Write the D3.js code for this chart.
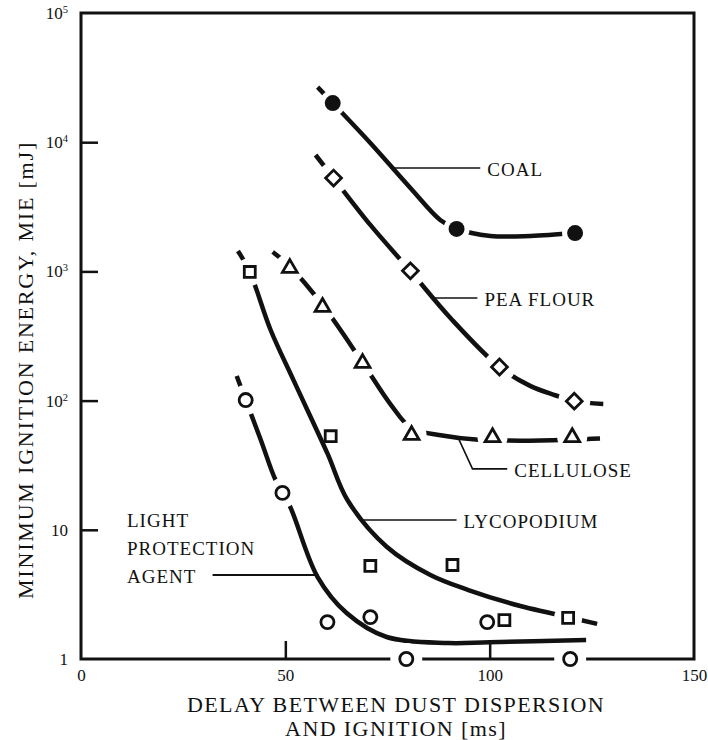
<!DOCTYPE html>
<html>
<head>
<meta charset="utf-8">
<script src="https://cdn.jsdelivr.net/npm/d3@7"></script>
<style>
body { margin: 0; background: #fff; }
svg text { font-family: "Liberation Serif", "DejaVu Serif", serif; fill: #111; }
</style>
</head>
<body>
<svg id="chart" width="708" height="740"></svg>
<script>
// tick values
var xTicks = [0, 50, 100, 150];
var yTicks = [1, 10, 100, 1000, 10000, 100000];

// measured points: delay [ms] vs MIE [mJ]
var coalX = [61.6, 91.9, 120.9];
var coalY = [20100, 2130, 1980];
var peaX = [61.8, 80.6, 102.4, 120.7];
var peaY = [5280, 1010, 182, 99];
var celluloseX = [51.1, 59.1, 68.9, 80.9, 100.7, 120.2];
var celluloseY = [1060, 530, 195, 54, 52, 52];
var lycoX = [41.3, 61.1, 70.8, 90.9, 103.6, 119.2];
var lycoY = [990, 53, 5.25, 5.34, 2.0, 2.08];
var lpaX = [40.3, 49.3, 60.3, 70.8, 79.6, 99.4, 119.7];
var lpaY = [101, 19.3, 1.93, 2.11, 1, 1.93, 1];

// hand drawn trend curves
var coalCurveX = [57.9, 61.6, 70.8, 80.6, 87.9, 91.9, 100.2, 110.0, 120.9];
var coalCurveY = [26700, 20100, 9860, 4420, 2500, 2130, 1880, 1880, 1980];
var peaCurveX = [57.4, 61.8, 70.8, 80.6, 90.4, 102.4, 109.9, 116.0, 120.7, 127.8];
var peaCurveY = [7960, 5280, 2290, 1007, 436, 182, 130, 110, 99, 94];
var celluloseCurveX = [46.9, 51.0, 59.1, 68.8, 75.7, 80.9, 88.0, 96.6, 107.5, 120.2, 127.0];
var celluloseCurveY = [1413, 1100, 550, 199, 94, 61, 54, 50, 49, 50, 51];
var lycoCurveX = [38.4, 41.3, 46.4, 52.0, 60.3, 65.2, 74.8, 85.5, 94.8, 107.5, 114.8, 126.3];
var lycoCurveY = [1440, 990, 352, 144, 39, 17, 7.4, 4.47, 3.42, 2.57, 2.27, 1.87];
var lpaCurveX = [38.1, 40.3, 44.0, 47.6, 51.1, 57.9, 65.0, 74.8, 89.9, 99.9, 123.6];
var lpaCurveY = [155, 101, 49.6, 24.3, 15.3, 4.31, 2.27, 1.48, 1.33, 1.35, 1.40];

// labels with leader lines (data units)
var labelNames = ["COAL", "PEA FLOUR", "CELLULOSE", "LYCOPODIUM"];
var leaderX0 = [75.7, 86.2, 95.8, 69.1];
var leaderX1 = [97.7, 97.0, 104.3, 91.9];
var leaderY = [6310, 622, 29.6, 11.9];
var lpaLines = ["LIGHT", "PROTECTION", "AGENT"];
var lpaLeaderX = [32.2, 58.1];
var lpaLeaderY = 4.47;
var celluloseBend = [92.3, 51.4];

var margin = {top: 13, right: 14, bottom: 81, left: 81};
var W = 708, H = 740;
var width = W - margin.left - margin.right;
var height = H - margin.top - margin.bottom;

var svg = d3.select("#chart");
var g = svg.append("g").attr("transform", "translate(" + margin.left + "," + margin.top + ")");

var x = d3.scaleLinear().domain([0, 150]).range([0, width]);
var y = d3.scaleLog().domain([1, 100000]).range([height, 0]);

var series = [
  {id: "coal", xs: coalX, ys: coalY, cx: coalCurveX, cy: coalCurveY, type: d3.symbolCircle, size: 200, fill: "#111", rot: 0, gap: 13},
  {id: "pea", xs: peaX, ys: peaY, cx: peaCurveX, cy: peaCurveY, type: d3.symbolSquare, size: 125, fill: "#fff", rot: 45, gap: 16},
  {id: "cell", xs: celluloseX, ys: celluloseY, cx: celluloseCurveX, cy: celluloseCurveY, type: d3.symbolTriangle, size: 95, fill: "#fff", rot: 0, gap: 15},
  {id: "lyco", xs: lycoX, ys: lycoY, cx: lycoCurveX, cy: lycoCurveY, type: d3.symbolSquare, size: 120, fill: "#fff", rot: 0, gap: 14},
  {id: "lpa", xs: lpaX, ys: lpaY, cx: lpaCurveX, cy: lpaCurveY, type: d3.symbolCircle, size: 135, fill: "#fff", rot: 0, gap: 15}
];

// distance from a point to a polyline (pixel space)
function distToPolyline(px, py, pts) {
  var best = Infinity;
  for (var i = 1; i < pts.length; i++) {
    var ax = pts[i-1][0], ay = pts[i-1][1], bx = pts[i][0], by = pts[i][1];
    var dx = bx - ax, dy = by - ay;
    var t = ((px - ax) * dx + (py - ay) * dy) / (dx * dx + dy * dy);
    t = Math.max(0, Math.min(1, t));
    best = Math.min(best, Math.hypot(px - ax - t * dx, py - ay - t * dy));
  }
  return best;
}

var line = d3.line().x(function(d){ return x(d[0]); }).y(function(d){ return y(d[1]); })
  .curve(d3.curveCatmullRom.alpha(0.5));

// frame
g.append("rect")
  .attr("width", width).attr("height", height)
  .attr("fill", "none").attr("stroke", "#111").attr("stroke-width", 3);

var xAxis = g.append("g")
  .attr("transform", "translate(0," + height + ")")
  .call(d3.axisBottom(x).tickValues(xTicks).tickSize(-18).tickSizeOuter(0).tickPadding(10).tickFormat(d3.format("d")));
xAxis.select(".domain").remove();
xAxis.selectAll("line").attr("stroke", "#111").attr("stroke-width", 2.5)
  .attr("display", function(d){ return d === 0 || d === 150 ? "none" : null; });
xAxis.selectAll("text").style("font-size", "17px");

var yAxis = g.append("g")
  .call(d3.axisLeft(y).tickValues(yTicks).tickSize(-17).tickSizeOuter(0).tickPadding(13));
yAxis.select(".domain").remove();
yAxis.selectAll("line").attr("stroke", "#111").attr("stroke-width", 2.5)
  .attr("display", function(d){ return d === 1 || d === 100000 ? "none" : null; });
yAxis.selectAll("text").each(function(d) {
  var t = d3.select(this).text("").style("font-size", "17px");
  var p = Math.round(Math.log10(d));
  if (p < 2) {
    t.text(d);
  } else {
    t.append("tspan").text("10");
    t.append("tspan").text(p).attr("dy", "-6").style("font-size", "10.5px");
  }
});

// curves
series.forEach(function(s) {
  var pts = s.cx.map(function(v, i){ return [v, s.cy[i]]; });
  g.append("path")
    .attr("d", line(pts))
    .attr("fill", "none")
    .attr("stroke", "#111")
    .attr("stroke-width", 4.5);
});

// white halos cut the curves (and the bottom of the frame) around the markers
var halos = g.append("g");
series.forEach(function(s) {
  var poly = s.cx.map(function(v, i){ return [x(v), y(s.cy[i])]; });
  s.xs.forEach(function(v, i) {
    var px = x(v), py = y(s.ys[i]);
    if (distToPolyline(px, py, poly) < 7.5) {
      halos.append("circle").attr("cx", px).attr("cy", py).attr("r", s.gap).attr("fill", "#fff");
    } else if (Math.abs(py - height) < 2) {
      halos.append("circle").attr("cx", px).attr("cy", py).attr("r", 16).attr("fill", "#fff");
    }
  });
});

// markers
series.forEach(function(s) {
  var sym = d3.symbol().type(s.type).size(s.size);
  g.append("g").selectAll("path")
    .data(s.xs.map(function(v, i){ return [v, s.ys[i]]; }))
    .join("path")
    .attr("d", sym)
    .attr("transform", function(d){ return "translate(" + x(d[0]) + "," + y(d[1]) + ") rotate(" + s.rot + ")"; })
    .attr("fill", s.fill)
    .attr("stroke", "#111")
    .attr("stroke-width", s.fill === "#fff" ? 2.8 : 0);
});

// leader lines and labels
var ann = g.append("g");
labelNames.forEach(function(name, i) {
  if (name === "CELLULOSE") {
    ann.append("path")
      .attr("d", d3.line()([[x(celluloseBend[0]), y(celluloseBend[1])], [x(leaderX0[i]), y(leaderY[i])], [x(leaderX1[i]), y(leaderY[i])]]))
      .attr("fill", "none").attr("stroke", "#111").attr("stroke-width", 1.6);
  } else {
    ann.append("line")
      .attr("x1", x(leaderX0[i])).attr("x2", x(leaderX1[i]))
      .attr("y1", y(leaderY[i])).attr("y2", y(leaderY[i]))
      .attr("stroke", "#111").attr("stroke-width", 1.6);
  }
  ann.append("text")
    .attr("x", x(leaderX1[i]) + 7)
    .attr("y", y(leaderY[i]) + 8)
    .style("font-size", "19px")
    .style("letter-spacing", "1px")
    .text(name);
});

ann.append("line")
  .attr("x1", x(lpaLeaderX[0])).attr("x2", x(lpaLeaderX[1]))
  .attr("y1", y(lpaLeaderY)).attr("y2", y(lpaLeaderY))
  .attr("stroke", "#111").attr("stroke-width", 2.2);
lpaLines.forEach(function(t, i) {
  ann.append("text")
    .attr("x", 46)
    .attr("y", y(lpaLeaderY) + 8 - (2 - i) * 28)
    .style("font-size", "19px")
    .style("letter-spacing", "1px")
    .text(t);
});

// axis titles
var xt = svg.append("text")
  .attr("text-anchor", "middle")
  .style("font-size", "22px")
  .style("letter-spacing", "1.4px");
xt.append("tspan").attr("x", 396).attr("y", 712).text("DELAY BETWEEN DUST DISPERSION");
xt.append("tspan").attr("x", 396).attr("y", 736).text("AND IGNITION [ms]");

svg.append("text")
  .attr("transform", "translate(33,370) rotate(-90)")
  .attr("text-anchor", "middle")
  .style("font-size", "22px")
  .style("letter-spacing", "1.8px")
  .text("MINIMUM IGNITION ENERGY, MIE [mJ]");
</script>
</body>
</html>
